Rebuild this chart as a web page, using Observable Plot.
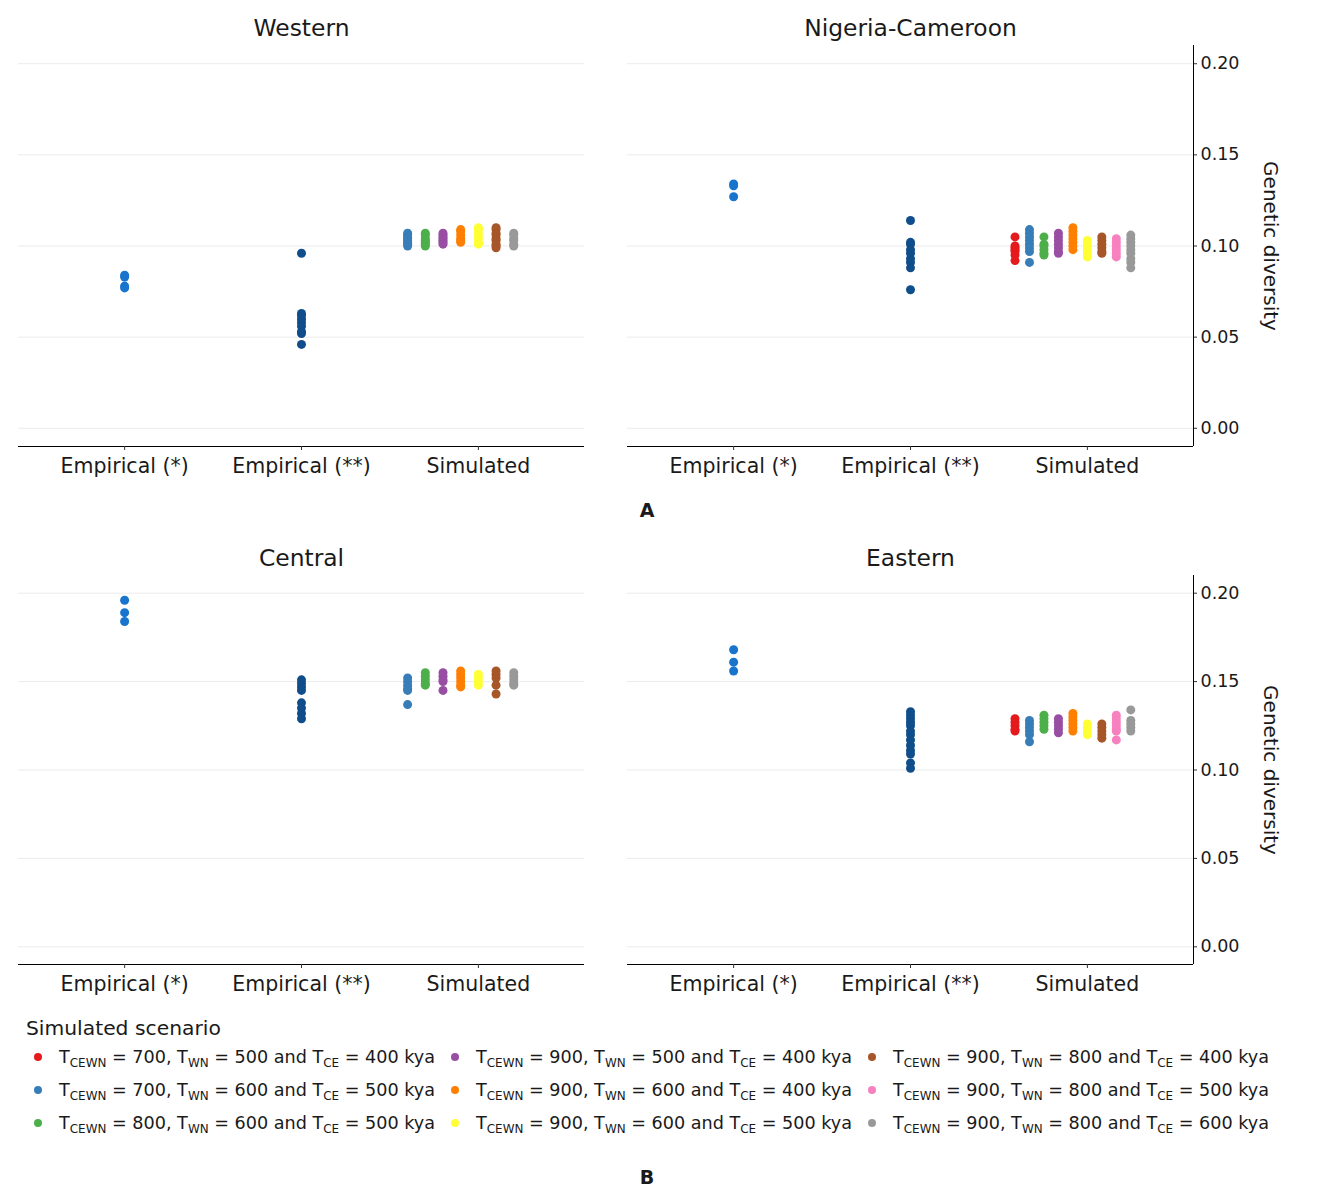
<!DOCTYPE html>
<html>
<head>
<meta charset="utf-8">
<script src="https://cdn.jsdelivr.net/npm/d3@7"></script>
<script src="https://cdn.jsdelivr.net/npm/@observablehq/plot@0.6"></script>
<style>
  body { margin: 0; background: #fff; font-family: "DejaVu Sans", sans-serif; color: #1a1a1a; }
  #wrap { position: relative; width: 1326px; height: 1200px; overflow: hidden; }
  .panel { position: absolute; }
  .tag { position: absolute; font-weight: bold; font-size: 19px; transform: translate(-50%, -50%); }
  #legendTitle { position: absolute; left: 26px; top: 1016px; font-size: 20.3px; }
  #legend { position: absolute; left: 34px; top: 1040px; display: grid; grid-template-columns: 417px 417px 417px;
            grid-template-rows: 33px 33px 33px; grid-auto-flow: column; }
  .item { display: flex; align-items: center; font-size: 17.6px; white-space: nowrap; }
  .sw { width: 8px; height: 8px; border-radius: 50%; margin-right: 17px; flex: none; }
  .item sub { font-size: 0.68em; vertical-align: -0.3em; line-height: 0; }
</style>
</head>
<body>
<div id="wrap"></div>
<script>
// ---------- data ----------
const categories = ["Empirical (*)", "Empirical (**)", "Simulated"];
const yTicks = [0, 0.05, 0.10, 0.15, 0.20];
const empiricalColors = ["#1874CD", "#104E8B"];
const scenarioColors = ["#E41A1C", "#377EB8", "#4DAF4A", "#984EA3", "#FF7F00", "#FFFF33", "#A65628", "#F781BF", "#999999"];
const scenarioTCEWN = [700, 700, 800, 900, 900, 900, 900, 900, 900];
const scenarioTWN   = [500, 600, 600, 500, 600, 600, 800, 800, 800];
const scenarioTCE   = [400, 500, 500, 400, 400, 500, 400, 500, 600];

// Western
const westernEmp1 = [0.084, 0.083, 0.078, 0.077];
const westernEmp2 = [0.096, 0.063, 0.062, 0.060, 0.058, 0.056, 0.053, 0.052, 0.046];
const westernSim = [
  [1, [0.107, 0.106, 0.105, 0.104, 0.103, 0.102, 0.101, 0.100]],
  [2, [0.107, 0.106, 0.104, 0.103, 0.102, 0.101, 0.100]],
  [3, [0.107, 0.106, 0.105, 0.104, 0.103, 0.102, 0.101]],
  [4, [0.109, 0.108, 0.106, 0.104, 0.103, 0.102]],
  [5, [0.110, 0.109, 0.107, 0.105, 0.104, 0.102, 0.101]],
  [6, [0.110, 0.109, 0.107, 0.106, 0.104, 0.103, 0.101, 0.100, 0.099]],
  [8, [0.107, 0.106, 0.104, 0.103, 0.101, 0.100]]
];

// Nigeria-Cameroon
const nigeriaEmp1 = [0.134, 0.133, 0.127];
const nigeriaEmp2 = [0.114, 0.102, 0.101, 0.098, 0.096, 0.093, 0.091, 0.088, 0.076];
const nigeriaSim = [
  [0, [0.105, 0.100, 0.099, 0.098, 0.097, 0.095, 0.092]],
  [1, [0.109, 0.107, 0.105, 0.103, 0.101, 0.099, 0.097, 0.091]],
  [2, [0.105, 0.101, 0.100, 0.098, 0.096, 0.095]],
  [3, [0.107, 0.105, 0.103, 0.101, 0.099, 0.097, 0.096]],
  [4, [0.110, 0.108, 0.106, 0.104, 0.102, 0.100, 0.098]],
  [5, [0.103, 0.101, 0.099, 0.097, 0.095, 0.094]],
  [6, [0.105, 0.103, 0.101, 0.099, 0.097, 0.096]],
  [7, [0.104, 0.102, 0.100, 0.098, 0.096, 0.094]],
  [8, [0.106, 0.104, 0.102, 0.100, 0.098, 0.096, 0.093, 0.091, 0.088]]
];

// Central
const centralEmp1 = [0.196, 0.189, 0.184];
const centralEmp2 = [0.151, 0.149, 0.147, 0.145, 0.138, 0.135, 0.132, 0.129];
const centralSim = [
  [1, [0.152, 0.150, 0.148, 0.146, 0.145, 0.137]],
  [2, [0.155, 0.153, 0.151, 0.149, 0.148]],
  [3, [0.155, 0.153, 0.151, 0.150, 0.145]],
  [4, [0.156, 0.154, 0.152, 0.150, 0.148, 0.147]],
  [5, [0.154, 0.152, 0.150, 0.148]],
  [6, [0.156, 0.154, 0.152, 0.148, 0.143]],
  [8, [0.155, 0.153, 0.151, 0.149, 0.148]]
];

// Eastern
const easternEmp1 = [0.168, 0.161, 0.156];
const easternEmp2 = [0.133, 0.131, 0.129, 0.127, 0.125, 0.122, 0.120, 0.117, 0.114, 0.111, 0.109, 0.104, 0.101];
const easternSim = [
  [0, [0.129, 0.127, 0.125, 0.123, 0.122]],
  [1, [0.128, 0.126, 0.124, 0.122, 0.120, 0.116]],
  [2, [0.131, 0.129, 0.127, 0.125, 0.123]],
  [3, [0.129, 0.127, 0.125, 0.123, 0.121]],
  [4, [0.132, 0.130, 0.128, 0.126, 0.124, 0.122]],
  [5, [0.126, 0.124, 0.122, 0.120]],
  [6, [0.126, 0.124, 0.122, 0.120, 0.118]],
  [7, [0.131, 0.129, 0.127, 0.125, 0.123, 0.122, 0.117]],
  [8, [0.134, 0.128, 0.126, 0.124, 0.122]]
];

// ---------- build ----------
const FONT = "DejaVu Sans, sans-serif";
const wrap = document.getElementById("wrap");

function panelRows(emp1, emp2, sim) {
  const N = sim.length + 2;         // dodge slots: all colour groups in the panel
  const dw = 0.9;
  const rows = [];
  emp1.forEach(v => rows.push({x: 1, y: v, fill: empiricalColors[0]}));
  emp2.forEach(v => rows.push({x: 2, y: v, fill: empiricalColors[1]}));
  sim.forEach(([s, vals], i) => {
    const off = (i - (N - 1) / 2) * dw / N;
    vals.forEach(v => rows.push({x: 3 + off, y: v, fill: scenarioColors[s]}));
  });
  return rows;
}

function panel(title, rows, right, left, top, plotH) {
  const width = right ? 700 : 600;
  const mL = right ? 17 : 18;
  const mR = right ? 117 : 16;
  const chart = Plot.plot({
    width, height: 45 + plotH + 44,
    marginLeft: mL, marginRight: mR, marginTop: 45, marginBottom: 44,
    style: {fontFamily: FONT, color: "#1a1a1a", background: "transparent"},
    x: {domain: [0.4, 3.6], axis: null},
    y: {domain: [-0.01, 0.21], axis: null},
    color: {type: "identity"},
    marks: [
      Plot.gridY(yTicks, {stroke: "#ebebeb", strokeOpacity: 1, strokeWidth: 1}),
      Plot.ruleY([-0.01], {stroke: "#000", strokeWidth: 1}),
      right ? Plot.ruleX([3.6], {stroke: "#000", strokeWidth: 1}) : null,
      Plot.axisX({ticks: [1, 2, 3], tickFormat: d => categories[d - 1], tickSize: 4, tickPadding: 8,
                  fontSize: 20.5, label: null, stroke: "#333"}),
      right ? Plot.axisY({anchor: "right", ticks: yTicks, tickFormat: d3.format(".2f"), tickSize: 3,
                  tickPadding: 4, fontSize: 17.5, label: null, stroke: "#333"}) : null,
      Plot.dot(rows, {x: "x", y: "y", fill: "fill", r: 4.5}),
      Plot.text([title], {text: d => d, frameAnchor: "top", lineAnchor: "middle", dy: -17,
                  fontSize: 23.4, fill: "#1a1a1a"}),
      right ? Plot.text(["Genetic diversity"], {text: d => d, frameAnchor: "right", textAnchor: "middle",
                  lineAnchor: "middle", rotate: 90, dx: 77, fontSize: 20, fill: "#1a1a1a"}) : null
    ]
  });
  chart.classList.add("panel");
  chart.style.left = left + "px";
  chart.style.top = top + "px";
  wrap.appendChild(chart);
}

panel("Western", panelRows(westernEmp1, westernEmp2, westernSim), false, 0, 0, 401);
panel("Nigeria-Cameroon", panelRows(nigeriaEmp1, nigeriaEmp2, nigeriaSim), true, 610, 0, 401);
panel("Central", panelRows(centralEmp1, centralEmp2, centralSim), false, 0, 530, 389);
panel("Eastern", panelRows(easternEmp1, easternEmp2, easternSim), true, 610, 530, 389);

// panel tags
[["A", 647, 510], ["B", 647, 1177]].forEach(([t, x, y]) => {
  const d = document.createElement("div");
  d.className = "tag"; d.textContent = t;
  d.style.left = x + "px"; d.style.top = y + "px";
  wrap.appendChild(d);
});

// legend
const lt = document.createElement("div");
lt.id = "legendTitle"; lt.textContent = "Simulated scenario";
wrap.appendChild(lt);
const lg = document.createElement("div");
lg.id = "legend";
scenarioColors.forEach((c, i) => {
  const it = document.createElement("div");
  it.className = "item";
  it.innerHTML = `<span class="sw" style="background:${c}"></span><span>T<sub>CEWN</sub> = ${scenarioTCEWN[i]}, T<sub>WN</sub> = ${scenarioTWN[i]} and T<sub>CE</sub> = ${scenarioTCE[i]} kya</span>`;
  lg.appendChild(it);
});
wrap.appendChild(lg);
</script>
</body>
</html>
